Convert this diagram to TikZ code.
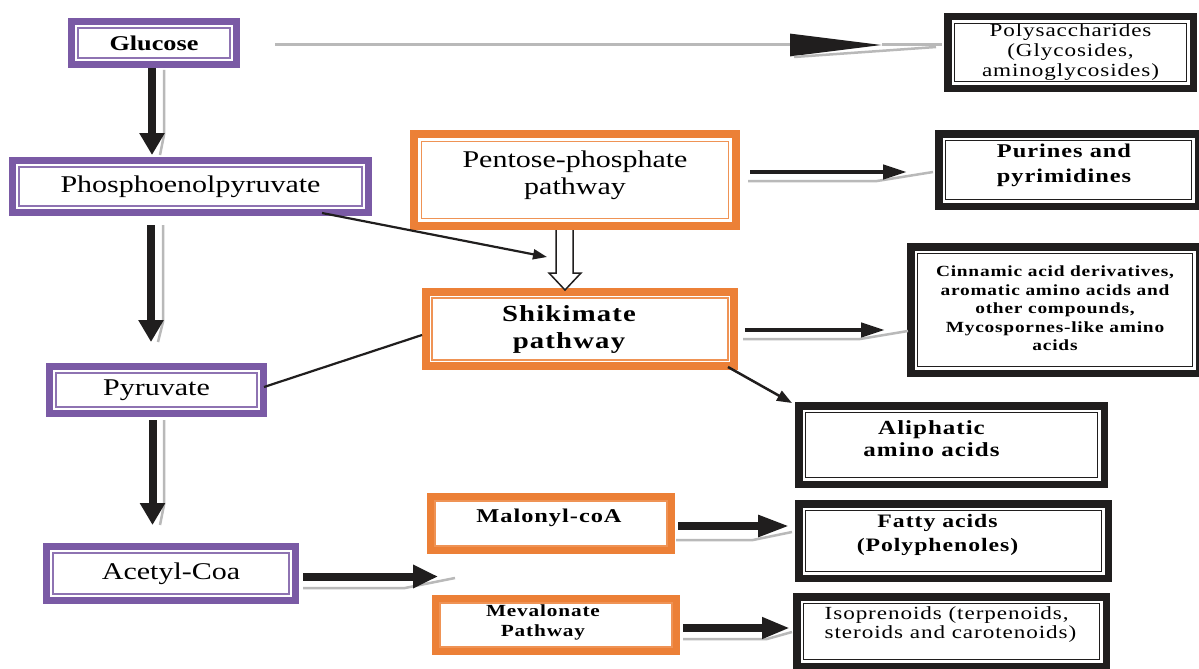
\documentclass[tikz,border=0pt]{standalone}
\usepackage{fontspec}
\setmainfont{Liberation Serif}[FakeStretch=1.25]
\newfontfamily\widefont{Liberation Serif}[FakeStretch=1.25,LetterSpace=5]
\usetikzlibrary{arrows.meta,calc}
\definecolor{purp}{RGB}{122,90,165}
\definecolor{orng}{RGB}{236,128,55}
\definecolor{blk}{RGB}{32,30,30}
\definecolor{shd}{RGB}{185,185,185}
\tikzset{
  pbox/.style={draw=purp, line width=7pt, outer sep=3.5pt, fill=white, inner sep=0pt},
  obox/.style={draw=orng, line width=8pt, outer sep=4pt, fill=white, inner sep=0pt},
  kbox/.style={draw=blk, line width=7.5pt, outer sep=3.75pt, fill=white, inner sep=0pt},
  lb/.style={align=center, inner sep=0pt, text=black},
  fat/.style={draw=blk, line width=8pt, -{Triangle[length=22pt,width=24pt]}},
  med/.style={draw=blk, line width=4.5pt, -{Triangle[length=24pt,width=14pt]}},
  thinline/.style={draw=blk, line width=2.2pt},
  thinarr/.style={draw=blk, line width=2.2pt, -{Triangle[length=14pt,width=10pt]}},
  shadow/.style={draw=shd, line width=2.5pt},
}
\begin{document}
\begin{tikzpicture}[x=1pt,y=-1pt]
\fill[white] (0,0) rectangle (1199,669);
\useasboundingbox (0,0) rectangle (1199,669);

% purple boxes
\node[pbox, minimum width=165pt, minimum height=43pt,
  label={[lb, font=\fontsize{21}{24}\selectfont\bfseries]center:Glucose}] (glu) at (154,43) {};
\node[pbox, minimum width=356pt, minimum height=52pt,
  label={[lb, font=\fontsize{24}{27}\selectfont]center:Phosphoenolpyruvate}] (pep) at (190.5,186.5) {};
\node[pbox, minimum width=214pt, minimum height=47pt,
  label={[lb, font=\fontsize{24}{27}\selectfont]center:Pyruvate}] (pyr) at (156.5,390) {};
\node[pbox, minimum width=249pt, minimum height=54pt,
  label={[lb, font=\fontsize{24}{27}\selectfont]center:Acetyl-Coa}] (acc) at (171,573.5) {};

% orange boxes
\node[obox, minimum width=322pt, minimum height=92pt,
  label={[lb, font=\fontsize{24}{27}\selectfont, yshift=5pt]center:{Pentose-phosphate\\pathway}}] (pent) at (575,180) {};
\node[obox, minimum width=308pt, minimum height=74pt,
  label={[lb, font=\widefont\fontsize{23}{27}\selectfont\bfseries, xshift=-11pt]center:{Shikimate\\pathway}}] (shik) at (580,329) {};
\node[obox, minimum width=240pt, minimum height=53pt,
  label={[lb, font=\widefont\fontsize{19.5}{22}\selectfont\bfseries, xshift=-2pt, yshift=6pt]center:{Malonyl-coA}}] (mal) at (551,523.5) {};
\node[obox, minimum width=240pt, minimum height=52pt,
  label={[lb, font=\widefont\fontsize{17}{20}\selectfont\bfseries, xshift=-13pt, yshift=3pt]center:{Mevalonate\\Pathway}}] (mev) at (556,625) {};

% black boxes
\node[kbox, minimum width=245.5pt, minimum height=71.5pt,
  label={[lb, font=\widefont\fontsize{18.5}{20}\selectfont]center:{Polysaccharides\\(Glycosides,\\aminoglycosides)}}] (poly) at (1070.5,52.5) {};
\node[kbox, minimum width=259.5pt, minimum height=72.5pt,
  label={[lb, font=\widefont\fontsize{19.5}{25}\selectfont\bfseries, xshift=-4.5pt, yshift=5pt]center:{Purines and\\pyrimidines}}] (pur) at (1068.5,170) {};
\node[kbox, minimum width=288.5pt, minimum height=126.5pt,
  label={[lb, font=\widefont\fontsize{15.5}{18.5}\selectfont\bfseries, yshift=1.5pt]center:{Cinnamic acid derivatives,\\aromatic amino acids and\\other compounds,\\Mycospornes-like amino\\acids}}] (cin) at (1055,310) {};
\node[kbox, minimum width=305.5pt, minimum height=78.5pt,
  label={[lb, font=\widefont\fontsize{20}{22}\selectfont\bfseries, xshift=-20pt, yshift=6pt]center:{Aliphatic\\amino acids}}] (ali) at (951.5,445) {};
\node[kbox, minimum width=309.5pt, minimum height=74.5pt,
  label={[lb, font=\widefont\fontsize{19}{24}\selectfont\bfseries, xshift=-16pt, yshift=6pt]center:{Fatty acids\\(Polyphenoles)}}] (fat) at (953.5,541) {};
\node[kbox, minimum width=309.5pt, minimum height=69.5pt,
  label={[lb, align=left, font=\widefont\fontsize{18.5}{19}\selectfont, xshift=-1pt, yshift=7pt]center:{Isoprenoids (terpenoids,\\steroids and carotenoids)}}] (iso) at (951.5,631.5) {};

% inner frames
\foreach \n in {glu,pep,pyr,acc}
  \draw[purp!85, line width=1.5pt] ([shift={(10pt,-10pt)}]\n.north west) rectangle ([shift={(-10pt,10pt)}]\n.south east);
\foreach \n/\d in {pent/11.5,shik/10,mal/8,mev/8}
  \draw[orng!85, line width=1.5pt] ([shift={(\d pt,-\d pt)}]\n.north west) rectangle ([shift={(-\d pt,\d pt)}]\n.south east);
\foreach \n in {poly,pur,cin,ali,fat,iso}
  \draw[blk, line width=1.8pt] ([shift={(10.5pt,-10.5pt)}]\n.north west) rectangle ([shift={(-10.5pt,10.5pt)}]\n.south east);

% vertical arrows with shadows
\draw[shadow] ([xshift=10pt,yshift=-2pt]glu.south) -- ([xshift=10pt,yshift=22pt]glu.south |- pep.north) -- ([xshift=6pt,yshift=2pt]glu.south |- pep.north);
\draw[fat] ([xshift=-2pt]glu.south) -- ([xshift=-2pt,yshift=2pt]glu.south |- pep.north);

\draw[shadow] ([xshift=-27.5pt,yshift=-9pt]pep.south) -- ([xshift=-27.5pt,yshift=41pt]pep.south |- pyr.north) -- ([xshift=-32.5pt,yshift=21pt]pep.south |- pyr.north);
\draw[fat] ([xshift=-39.5pt,yshift=-9pt]pep.south) -- ([xshift=-39.5pt,yshift=21pt]pep.south |- pyr.north);

\draw[shadow] ([xshift=7.5pt,yshift=-3pt]pyr.south) -- ([xshift=7.5pt,yshift=38pt]pyr.south |- acc.north) -- ([xshift=3.5pt,yshift=18pt]pyr.south |- acc.north);
\draw[fat] ([xshift=-4pt,yshift=-3pt]pyr.south) -- ([xshift=-4pt,yshift=18pt]pyr.south |- acc.north);

% glucose -> polysaccharides
\draw[shd, line width=3pt, -{Triangle[length=92pt,width=22pt,blk]}] ([xshift=35pt,yshift=-2pt]glu.east) -- ([xshift=-62pt,yshift=-2pt]glu.east -| poly.west);
\draw[shd, line width=3pt] ([xshift=-62pt,yshift=-2pt]glu.east -| poly.west) -- ([xshift=-2pt,yshift=-2pt]glu.east -| poly.west);
\draw[shadow] ([xshift=-150pt,yshift=-14pt]glu.east -| poly.west) -- ([xshift=-8pt,yshift=-4pt]glu.east -| poly.west);

% pentose -> purines
\draw[shadow] ([xshift=8pt,yshift=-1pt]pent.east) -- ([xshift=-58pt,yshift=-1pt]pent.east -| pur.west) -- ([xshift=-2pt,yshift=8pt]pent.east -| pur.west);
\draw[med] ([xshift=10pt,yshift=8pt]pent.east) -- ([xshift=-28pt,yshift=8pt]pent.east -| pur.west);

% shikimate -> cinnamic
\draw[shadow] ([xshift=5pt,yshift=-10pt]shik.east) -- ([xshift=-47pt,yshift=-10pt]shik.east -| cin.west) -- ([xshift=1pt,yshift=-2pt]shik.east -| cin.west);
\draw[med] ([xshift=7pt,yshift=-1pt]shik.east) -- ([xshift=-22pt,yshift=-1pt]shik.east -| cin.west);

% pentose -> shikimate (hollow arrow)
\draw[blk, line width=1.5pt, fill=white]
  ([xshift=-19pt]pent.south) -- ([shift={(-19pt,-43pt)}]pent.south) -- ([shift={(-26pt,-43pt)}]pent.south)
  -- ([shift={(-10pt,-60pt)}]pent.south) -- ([shift={(6pt,-43pt)}]pent.south) -- ([shift={(-2pt,-43pt)}]pent.south)
  -- ([xshift=-2pt]pent.south);

% phosphoenolpyruvate -> shikimate
\draw[thinarr] ([xshift=-50pt,yshift=3pt]pep.south east) -- ([xshift=-33pt,yshift=31pt]shik.north);
% pyruvate -- shikimate
\draw[thinline] ([xshift=-3pt,yshift=3pt]pyr.east) -- ([yshift=-6pt]shik.west);
% shikimate -> aliphatic
\draw[blk, line width=2.5pt, -{Triangle[length=15pt,width=11pt]}] ([xshift=-10pt,yshift=3pt]shik.south east) -- ([xshift=-3pt,yshift=-1pt]ali.north west);

% acetyl -> malonyl / mevalonate
\draw[shadow] ([xshift=4pt,yshift=-14.5pt]acc.east) -- ([xshift=-22pt,yshift=-14.5pt]acc.east -| mal.west) -- ([xshift=28pt,yshift=-4.5pt]acc.east -| mal.west);
\draw[fat, -{Triangle[length=25pt,width=22pt]}] ([xshift=4pt,yshift=-3pt]acc.east) -- ([xshift=11pt,yshift=-3pt]acc.east -| mal.west);

% malonyl -> fatty acids
\draw[shadow] ([xshift=1pt,yshift=-16.5pt]mal.east) -- ([xshift=-42pt,yshift=-16.5pt]mal.east -| fat.west) -- ([xshift=-3pt,yshift=-8.5pt]mal.east -| fat.west);
\draw[fat, -{Triangle[length=32pt,width=20pt]}] ([xshift=3pt,yshift=-2.5pt]mal.east) -- ([xshift=-5pt,yshift=-2.5pt]mal.east -| fat.west);

% mevalonate -> isoprenoids
\draw[shadow] ([xshift=3pt,yshift=-14pt]mev.east) -- ([xshift=-26pt,yshift=-14pt]mev.east -| iso.west) -- ([xshift=-1pt,yshift=-7pt]mev.east -| iso.west);
\draw[fat, -{Triangle[length=28pt,width=20pt]}] ([xshift=3pt,yshift=-3pt]mev.east) -- ([xshift=-3pt,yshift=-3pt]mev.east -| iso.west);
\end{tikzpicture}
\end{document}
